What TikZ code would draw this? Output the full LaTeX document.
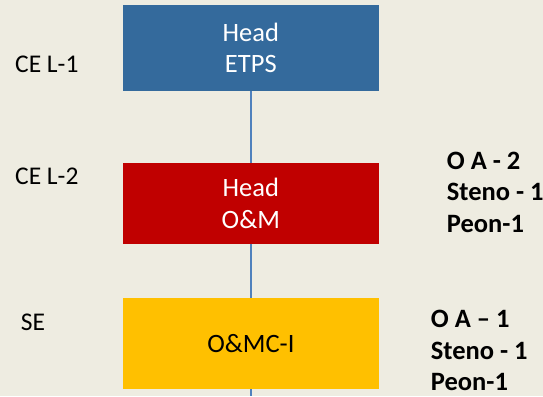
\documentclass[tikz,border=0pt]{standalone}
\usepackage{fontspec}
\setmainfont{Carlito}
\usetikzlibrary{backgrounds}
\definecolor{tanbg}{HTML}{EEECE1}
\definecolor{etpsblue}{HTML}{346A9C}
\definecolor{omred}{HTML}{C00000}
\definecolor{omcyellow}{HTML}{FFC000}
\definecolor{linkblue}{HTML}{4F81BD}

\tikzset{
  unitbox/.style={minimum width=255.7pt, inner sep=0pt, align=center,
    font=\fontsize{26.5}{31.6}\selectfont},
  levellabel/.style={anchor=base west, inner sep=0pt,
    font=\fontsize{25.5}{29}\selectfont},
  staffline/.style={anchor=base west, inner sep=0pt,
    font=\bfseries\fontsize{26.5}{31}\selectfont},
}

\begin{document}
\begin{tikzpicture}[x=1pt,y=-1pt]
\useasboundingbox (0,0) rectangle (543,396);
\def\cx{250.85}

% units
\node[unitbox, fill=etpsblue, text=white, minimum height=85.7pt] (etps) at (\cx,47.85) {Head\\ETPS};
\node[unitbox, fill=omred, text=white, minimum height=80.7pt] (om) at (\cx,203.35) {Head\\O\&M};
\node[unitbox, fill=omcyellow, text=black, minimum height=90.7pt] (omc) at (\cx,343.35) {O\&MC-I};
\coordinate (down) at (etps.south |- 0,396);

% levels
\node[levellabel] (lvl1) at (15,72.3) {CE L-1};
\node[levellabel] (lvl2) at (15,184) {CE L-2};
\node[levellabel] (lvl3) at (20.7,330) {SE};

% staff
\foreach \t [count=\i] in {O A - 2, Steno - 1, Peon-1}
  \node[staffline] (staffa\i) at (446.7,169.3+31.35*\i-31.35) {\t};
\foreach \t [count=\i] in {O A -- 1, Steno - 1, Peon-1}
  \node[staffline] (staffb\i) at (430.7,327.3+31.7*\i-31.7) {\t};

\begin{scope}[on background layer]
\fill[tanbg] (0,0) rectangle (543,396);
\draw[linkblue, line width=2pt] (etps.south) -- (down);
\end{scope}
\end{tikzpicture}
\end{document}
